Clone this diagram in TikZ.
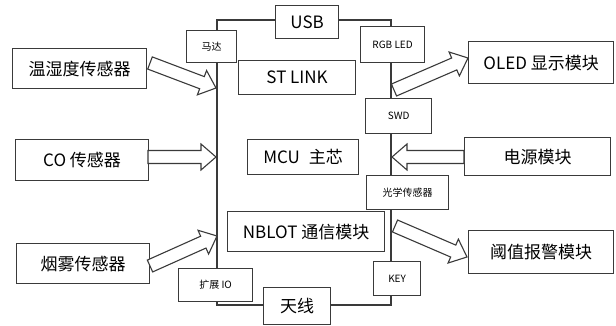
\documentclass[tikz,border=0pt]{standalone}
\usepackage{fontspec}
\setmainfont{Noto Sans CJK SC}
\usetikzlibrary{calc}
\definecolor{linegray}{HTML}{3A3A3A}
\tikzset{
  box/.style={draw=linegray, line width=1.2pt, fill=white, inner sep=0pt, anchor=north west},
  big/.style={font=\fontsize{17}{20}\selectfont},
  small/.style={font=\fontsize{10}{12}\selectfont},
  framestyle/.style={draw=linegray, line width=1.2pt},
  harrowstyle/.style={draw=linegray, line width=1.1pt, fill=white, line join=miter},
}
% hollow block arrow from tail #1 to tip #2
\newcommand{\harrow}[2]{%
  \coordinate (hb) at ($(#2)!15pt!(#1)$);
  \draw[harrowstyle] ($(#1)!6.5pt!90:(#2)$) -- ($(hb)!6.5pt!90:(#2)$) -- ($(hb)!13pt!90:(#2)$)
     -- (#2) -- ($(hb)!13pt!-90:(#2)$) -- ($(hb)!6.5pt!-90:(#2)$) -- ($(#1)!6.5pt!-90:(#2)$) -- cycle;
}
\newcommand{\boxnode}[7]{% style, name, x1, y1, x2, y2, text
  \node[box, #1, minimum width={(#5-#3)*1pt}, minimum height={(#6-#4)*1pt}] (#2) at (#3,#4) {#7};
}
\begin{document}
\begin{tikzpicture}[x=1pt, y=-1pt]
\useasboundingbox (0,0) rectangle (616,326);
% frame
\coordinate (ftl) at (217,20);
\coordinate (fbr) at (391,305);
\draw[framestyle] (ftl) rectangle (fbr);
% boxes
\boxnode{big}{usb}{275}{5}{338}{38}{USB}
\boxnode{small}{mada}{186}{30}{236}{62}{马达}
\boxnode{small}{rgb}{360}{26}{424}{62}{RGB LED}
\boxnode{big}{stlink}{238}{60}{355}{94}{ST LINK}
\boxnode{big}{wsd}{12}{48}{146}{88}{温湿度传感器}
\boxnode{big}{oled}{468}{41}{613}{83}{OLED 显示模块}
\boxnode{small}{swd}{365}{98}{431}{133}{SWD}
\boxnode{big}{co}{15}{139}{148}{180}{CO 传感器}
\boxnode{big}{mcu}{247}{139}{358}{174}{MCU\hspace{9pt}主芯}
\boxnode{big}{power}{464}{137}{610}{175}{电源模块}
\boxnode{small}{light}{366}{175}{448}{209}{光学传感器}
\boxnode{big}{nblot}{227}{211}{384}{251}{NBLOT 通信模块}
\boxnode{big}{smoke}{16}{243}{149}{283}{烟雾传感器}
\boxnode{big}{alarm}{468}{230}{613}{273}{阈值报警模块}
\boxnode{small}{key}{373}{261}{420}{295}{KEY}
\boxnode{small}{io}{178}{268}{252}{301}{扩展 IO}
\boxnode{big}{ant}{263}{287}{330}{324}{天线}
% arrows
\coordinate (a1t) at (150,63);  \coordinate (a1h) at (216,88);
\coordinate (a2t) at (148,157); \coordinate (a2h) at (216,157);
\coordinate (a3t) at (150,266); \coordinate (a3h) at (217,236);
\coordinate (a4t) at (394,90);  \coordinate (a4h) at (468,58);
\coordinate (a5t) at (464,157); \coordinate (a5h) at (392,157);
\coordinate (a6t) at (395,226); \coordinate (a6h) at (467,257);
\harrow{a1t}{a1h}
\harrow{a2t}{a2h}
\harrow{a3t}{a3h}
\harrow{a4t}{a4h}
\harrow{a5t}{a5h}
\harrow{a6t}{a6h}
\end{tikzpicture}
\end{document}
